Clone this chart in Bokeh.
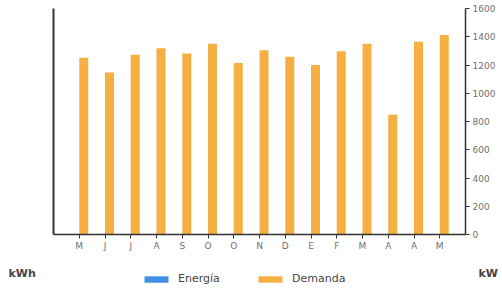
from bokeh.plotting import figure
from bokeh.models import (Range1d, LinearAxis, FixedTicker, Legend, LegendItem, Label)
from bokeh.embed import file_html
from bokeh.resources import INLINE

# ---- data ----
months = ["M", "J", "J", "A", "S", "O", "O", "N", "D", "E", "F", "M", "A", "A", "M"]
demanda = [1252, 1147, 1273, 1318, 1282, 1351, 1214, 1304, 1259, 1200, 1297, 1351, 848, 1365, 1413]
energia = [0, 0, 0, 0, 0, 0, 0, 0, 0, 0, 0, 0, 0, 0, 0]
kw_ticks = [0, 200, 400, 600, 800, 1000, 1200, 1400, 1600]
series_names = ["Energía", "Demanda"]
unit_left = "kWh"
unit_right = "kW"

ORANGE = "#F6B042"
BLUE = "#3F8FE3"
FONT = "DejaVu Sans"

W, H = 502, 288
# pixel layout of the plotting area
LEFT, RIGHT, TOP, BOTTOM = 53, 465, 8, 234

n = len(months)
xs = list(range(n))
ymax = kw_ticks[-1]

# ranges chosen so that the frame fills the whole canvas and axes sit at fixed locations
xpx = (RIGHT - LEFT) / (n + 1)
x0 = -1 - LEFT / xpx
x1 = n + (W - RIGHT) / xpx
ypx = (BOTTOM - TOP) / ymax
y1 = ymax + TOP / ypx
y0 = -(H - BOTTOM) / ypx

p = figure(width=W, height=H, output_backend="svg", toolbar_location=None,
           x_range=Range1d(x0, x1), y_range=Range1d(y0, y1),
           y_axis_location="right",
           min_border_left=0, min_border_right=0, min_border_top=0, min_border_bottom=0)
p.outline_line_color = None
p.grid.visible = False
p.background_fill_color = "white"
p.border_fill_color = "white"

bw = 0.35
r_e = p.vbar(x=[x - bw / 2 for x in xs], width=bw, top=energia, bottom=0,
             fill_color=BLUE, line_color=None)
r_d = p.vbar(x=[x + bw / 2 for x in xs], width=bw, top=demanda, bottom=0,
             fill_color=ORANGE, line_color=None)

# bottom axis
xa = p.xaxis[0]
xa.fixed_location = 0
xa.bounds = (-1, n)
xa.ticker = FixedTicker(ticks=xs)
xa.major_label_overrides = {i: m for i, m in enumerate(months)}
xa.major_label_text_font = FONT
xa.major_label_text_font_size = "9px"
xa.major_label_text_color = "#707070"
xa.major_label_standoff = 2
xa.major_tick_in = 0
xa.major_tick_out = 4
xa.major_tick_line_color = "#333333"
xa.minor_tick_line_color = None
xa.axis_line_color = "#333333"
xa.axis_line_width = 1.5

# right axis (kW)
ya = p.yaxis[0]
ya.fixed_location = n
ya.bounds = (0, ymax)
ya.ticker = FixedTicker(ticks=kw_ticks)
ya.major_label_text_font = FONT
ya.major_label_text_font_size = "9px"
ya.major_label_text_color = "#707070"
ya.major_label_standoff = 3
ya.major_tick_in = 0
ya.major_tick_out = 4
ya.major_tick_line_color = "#333333"
ya.minor_tick_line_color = None
ya.axis_line_color = "#333333"
ya.axis_line_width = 1.5

# left axis (kWh) - no ticks
la = LinearAxis(ticker=FixedTicker(ticks=[]), fixed_location=-1, bounds=(0, ymax),
                major_label_text_font_size="0px", major_tick_line_color=None,
                minor_tick_line_color=None, axis_line_color="#333333", axis_line_width=2)
p.add_layout(la, "left")

# legends
def make_legend(name, rend, x):
    lg = Legend(items=[LegendItem(label=name, renderers=[rend])],
                location=(x, 3), orientation="horizontal",
                glyph_width=30, glyph_height=8, label_height=8,
                label_standoff=7, padding=0, margin=0, spacing=0,
                label_text_font=FONT, label_text_font_size="11px",
                label_text_color="#444444",
                background_fill_alpha=0, border_line_alpha=0)
    p.add_layout(lg, "center")

make_legend(series_names[0], r_e, 141)
make_legend(series_names[1], r_d, 255)

p.add_layout(Label(x=8, y=15, x_units="screen", y_units="screen", text=unit_left,
                   text_font=FONT, text_font_size="11px", text_font_style="bold",
                   text_color="#444444", text_baseline="middle", text_align="left"))
p.add_layout(Label(x=478, y=15, x_units="screen", y_units="screen", text=unit_right,
                   text_font=FONT, text_font_size="11px", text_font_style="bold",
                   text_color="#444444", text_baseline="middle", text_align="left"))

open("out.html", "w").write(file_html(p, INLINE))
